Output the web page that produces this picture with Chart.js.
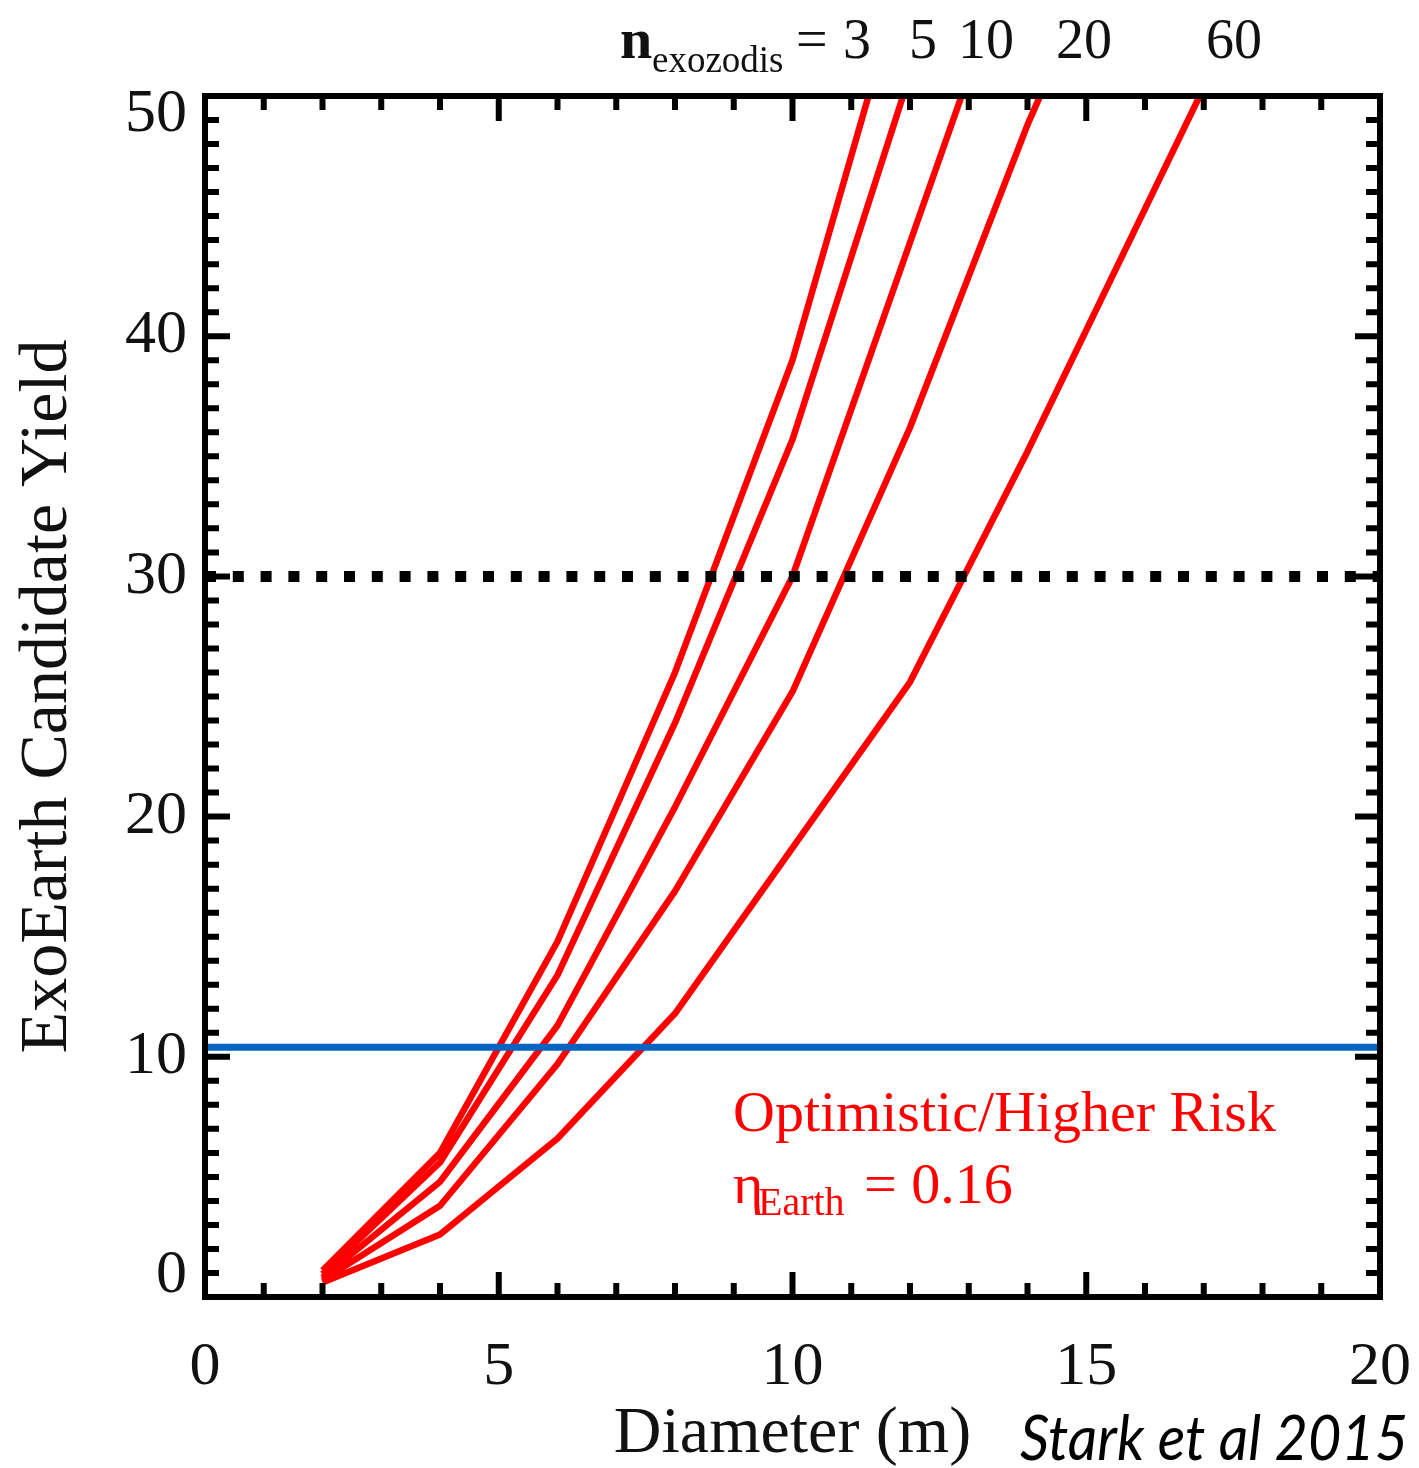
<!DOCTYPE html>
<html>
<head>
<meta charset="utf-8">
<title>ExoEarth Candidate Yield</title>
<script src="https://cdn.jsdelivr.net/npm/chart.js@4.4.1/dist/chart.umd.min.js"></script>
<style>
  html, body { margin: 0; padding: 0; background: #fff; }
</style>
</head>
<body>
<canvas id="myChart" width="1419" height="1468"></canvas>
<script>
'use strict';
// telescope diameter (m)
let diameters = [2, 4, 6, 8, 10, 12, 14, 16, 18];
// exoEarth candidate yield for each exozodi level
let yieldN3 = [1.1, 6.0, 14.8, 26.0, 39.0, 56.0];
let yieldN5 = [0.95, 5.6, 13.4, 23.9, 35.7, 50.9];
let yieldN10 = [0.8, 4.8, 11.3, 20.4, 30.0, 43.9, 57.8];
let yieldN20 = [0.7, 3.8, 9.7, 16.9, 25.2, 36.2, 48.8, 60.0];
let yieldN60 = [0.6, 2.6, 6.6, 11.8, 18.7, 25.6, 35.2, 45.3, 55.4];
let nExozodis = ['3', '5', '10', '20', '60'];
let nLabelX = [857, 923, 986, 1084, 1234];

let hostileLine = 10.4;   // blue
let goalLine = 30;        // dotted
let xTicks = [0, 5, 10, 15, 20];
let yTicks = [0, 10, 20, 30, 40, 50];

let serif = '"Liberation Serif", "DejaVu Serif", serif';
let red = '#ff0000';

function toPoints(ys) {
    let pts = [];
    for (let i = 0; i < ys.length; i++) {
        pts.push({ x: diameters[i], y: ys[i] });
    }
    return pts;
}

function redCurve(ys) {
    return {
        data: toPoints(ys),
        borderColor: red,
        borderWidth: 6.5,
        borderJoinStyle: 'round',
        pointRadius: 0,
        showLine: true,
        tension: 0
    };
}

// frame with inward ticks on all four sides, plus the y labels
const frameTicks = {
    id: 'frameTicks',
    afterDatasetsDraw(chart) {
        const { ctx, chartArea: a, scales: { x, y } } = chart;
        ctx.save();
        ctx.strokeStyle = '#000';
        ctx.lineWidth = 6;
        ctx.lineCap = 'butt';
        ctx.beginPath();
        for (let v = 0; v <= 20; v++) {
            let px = x.getPixelForValue(v);
            let len = v % 5 === 0 ? 25 : 14;
            ctx.moveTo(px, a.bottom); ctx.lineTo(px, a.bottom - len);
            ctx.moveTo(px, a.top); ctx.lineTo(px, a.top + len);
        }
        for (let v = 0; v <= 50; v++) {
            let py = y.getPixelForValue(v);
            let len = v % 10 === 0 ? 25 : 14;
            ctx.moveTo(a.left, py); ctx.lineTo(a.left + len, py);
            ctx.moveTo(a.right, py); ctx.lineTo(a.right - len, py);
        }
        ctx.stroke();
        ctx.strokeRect(a.left, a.top, a.right - a.left, a.bottom - a.top);

        // y labels: end labels are kept inside the frame height
        ctx.fillStyle = '#111';
        ctx.font = '62px ' + serif;
        ctx.textAlign = 'right';
        ctx.textBaseline = 'middle';
        for (let i = 0; i < yTicks.length; i++) {
            let py = y.getPixelForValue(yTicks[i]);
            py = Math.min(Math.max(py, a.top + 19), a.bottom - 21);
            ctx.fillText(String(yTicks[i]), a.left - 18, py);
        }
        ctx.restore();
    }
};

// text notes around the plot
const notes = {
    id: 'notes',
    afterDraw(chart) {
        const ctx = chart.ctx;
        ctx.save();
        ctx.textBaseline = 'alphabetic';

        // n_exozodis = 3 5 10 20 60
        ctx.fillStyle = '#111';
        ctx.textAlign = 'left';
        ctx.font = 'bold 58px ' + serif;
        ctx.fillText('n', 620, 58);
        ctx.font = '37px ' + serif;
        ctx.fillText('exozodis', 652, 72);
        ctx.font = '56px ' + serif;
        ctx.fillText('=', 796, 58);
        ctx.textAlign = 'center';
        for (let i = 0; i < nExozodis.length; i++) {
            ctx.fillText(nExozodis[i], nLabelX[i], 58);
        }

        // scenario note
        ctx.fillStyle = red;
        ctx.textAlign = 'left';
        ctx.font = '58px ' + serif;
        ctx.fillText('Optimistic/Higher Risk', 733, 1131);
        ctx.fillText('\u03b7', 733, 1203);
        ctx.font = '40px ' + serif;
        ctx.fillText('Earth', 758, 1215);
        ctx.font = '58px ' + serif;
        ctx.fillText('= 0.16', 864, 1203);

        // citation
        ctx.fillStyle = '#000';
        ctx.font = 'italic 62px Lato, "Open Sans", sans-serif';
        let txt = 'Stark et al 2015';
        let w = ctx.measureText(txt).width;
        ctx.translate(1020, 1460);
        ctx.scale(388 / w, 1);
        ctx.fillText(txt, 0, 0);
        ctx.restore();
    }
};

let ctx = document.getElementById('myChart').getContext('2d');
let myChart = new Chart(ctx, {
    type: 'scatter',
    data: {
        datasets: [
            {
                data: [{ x: 0, y: hostileLine }, { x: 20, y: hostileLine }],
                borderColor: '#0563c1',
                borderWidth: 7,
                pointRadius: 0,
                showLine: true
            },
            {
                data: [{ x: 0, y: goalLine }, { x: 20, y: goalLine }],
                borderColor: '#000',
                borderWidth: 11,
                borderDash: [11, 16.8],
                borderCapStyle: 'butt',
                pointRadius: 0,
                showLine: true
            },
            redCurve(yieldN3),
            redCurve(yieldN5),
            redCurve(yieldN10),
            redCurve(yieldN20),
            redCurve(yieldN60)
        ]
    },
    options: {
        responsive: false,
        animation: false,
        layout: { padding: { top: 96, right: 39, left: 0, bottom: 0 } },
        plugins: { legend: { display: false }, tooltip: { enabled: false } },
        scales: {
            x: {
                type: 'linear',
                min: 0,
                max: 20,
                afterBuildTicks: s => { s.ticks = xTicks.map(v => ({ value: v })); },
                afterFit: s => { s.height = 171; s.paddingLeft = 0; s.paddingRight = 0; },
                grid: { display: false, drawTicks: false },
                border: { display: false },
                ticks: { color: '#111', padding: 34, maxRotation: 0, font: { family: serif, size: 62 } },
                title: {
                    display: true,
                    text: 'Diameter (m)',
                    color: '#111',
                    padding: 0,
                    font: { family: serif, size: 66, lineHeight: 1 }
                }
            },
            y: {
                type: 'linear',
                min: 0,
                max: 50,
                afterBuildTicks: s => { s.ticks = yTicks.map(v => ({ value: v })); },
                afterFit: s => { s.width = 205; s.paddingTop = 0; s.paddingBottom = 0; },
                grid: { display: false, drawTicks: false },
                border: { display: false },
                ticks: { display: false },
                title: {
                    display: true,
                    text: 'ExoEarth Candidate Yield',
                    color: '#111',
                    padding: { top: 14, bottom: 0 },
                    font: { family: serif, size: 68, lineHeight: 1 }
                }
            }
        }
    },
    plugins: [frameTicks, notes]
});
</script>
</body>
</html>
